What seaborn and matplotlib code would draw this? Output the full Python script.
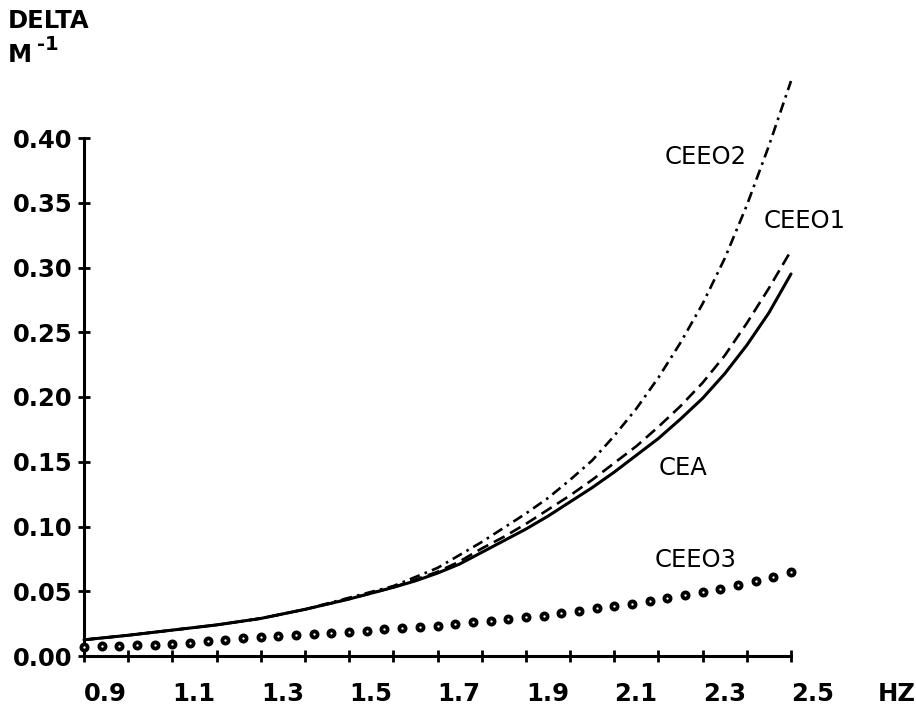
import matplotlib
matplotlib.use("Agg")
import matplotlib.pyplot as plt
import seaborn as sns
import pandas as pd

# ---- data ----
freq = [0.9, 1.0, 1.1, 1.2, 1.3, 1.4, 1.5, 1.6, 1.65, 1.7, 1.75, 1.8, 1.85, 1.9, 1.95,
        2.0, 2.05, 2.1, 2.15, 2.2, 2.25, 2.3, 2.35, 2.4, 2.45, 2.5]
cea = [0.0125, 0.016, 0.020, 0.024, 0.029, 0.036, 0.044, 0.053, 0.058, 0.064, 0.071,
       0.080, 0.089, 0.098, 0.108, 0.119, 0.130, 0.142, 0.155, 0.168, 0.183, 0.199,
       0.218, 0.240, 0.265, 0.295]
ceeo1 = [0.0125, 0.016, 0.020, 0.024, 0.029, 0.036, 0.044, 0.053, 0.059, 0.065, 0.073,
         0.083, 0.092, 0.102, 0.113, 0.124, 0.136, 0.149, 0.162, 0.177, 0.193, 0.211,
         0.232, 0.257, 0.284, 0.313]
ceeo2 = [0.0125, 0.016, 0.020, 0.024, 0.029, 0.036, 0.045, 0.054, 0.061, 0.068, 0.078,
         0.088, 0.099, 0.110, 0.122, 0.136, 0.151, 0.170, 0.191, 0.215, 0.242, 0.272,
         0.307, 0.348, 0.394, 0.444]

freq3 = [0.90, 0.94, 0.98, 1.02, 1.06, 1.10, 1.14, 1.18, 1.22, 1.26, 1.30, 1.34, 1.38, 1.42,
         1.46, 1.50, 1.54, 1.58, 1.62, 1.66, 1.70, 1.74, 1.78, 1.82, 1.86, 1.90, 1.94, 1.98,
         2.02, 2.06, 2.10, 2.14, 2.18, 2.22, 2.26, 2.30, 2.34, 2.38, 2.42, 2.46, 2.50]
ceeo3 = [0.0070, 0.0077, 0.0077, 0.0085, 0.0085, 0.0093, 0.0101, 0.0116, 0.0124, 0.0139,
         0.0147, 0.0155, 0.0163, 0.0170, 0.0178, 0.0186, 0.0194, 0.0209, 0.0217, 0.0224,
         0.0232, 0.0248, 0.0263, 0.0271, 0.0286, 0.0302, 0.0310, 0.0333, 0.0348, 0.0372,
         0.0387, 0.0402, 0.0426, 0.0449, 0.0472, 0.0495, 0.0519, 0.0550, 0.0580, 0.0611,
         0.0650]

xticklabels = ["0.9", "1.1", "1.3", "1.5", "1.7", "1.9", "2.1", "2.3", "2.5"]
yticks = [0.00, 0.05, 0.10, 0.15, 0.20, 0.25, 0.30, 0.35, 0.40]
yticklabels = ["0.00", "0.05", "0.10", "0.15", "0.20", "0.25", "0.30", "0.35", "0.40"]

curve_labels = {"CEEO2": (2.307, 0.385), "CEEO1": (2.531, 0.336),
                "CEA": (2.255, 0.145), "CEEO3": (2.284, 0.074)}

df = pd.DataFrame({"freq": freq, "CEA": cea, "CEEO1": ceeo1, "CEEO2": ceeo2})
df3 = pd.DataFrame({"freq": freq3, "CEEO3": ceeo3})

# ---- figure ----
sns.set_style("ticks")
plt.rcParams["font.family"] = ["DejaVu Sans"]
plt.rcParams["text.color"] = "black"

fig = plt.figure(figsize=(9.16, 7.11), dpi=100)
ax = fig.add_axes([84 / 916, 1 - 656 / 711, (791 - 84) / 916, (656 - 138) / 711])

lw = 1.9
sns.lineplot(data=df, x="freq", y="CEA", ax=ax, color="black", linewidth=lw + 0.3,
             clip_on=False)
sns.lineplot(data=df, x="freq", y="CEEO1", ax=ax, color="black", linewidth=lw,
             linestyle=(0, (4.6, 2.4)), clip_on=False)
sns.lineplot(data=df, x="freq", y="CEEO2", ax=ax, color="black", linewidth=lw,
             linestyle=(0, (4.0, 2.0, 1.0, 2.0)), clip_on=False)
sns.scatterplot(data=df3, x="freq", y="CEEO3", ax=ax, marker="o", s=20,
                facecolor="white", edgecolor="black", linewidth=2.7, clip_on=False,
                zorder=3)

ax.set_xlim(0.9, 2.5)
ax.set_ylim(0.0, 0.40)

ax.set_xticks([0.9 + 0.1 * i for i in range(17)])
ax.set_xticklabels([xticklabels[i // 2] if i % 2 == 0 else "" for i in range(17)])
ax.set_yticks(yticks)
ax.set_yticklabels(yticklabels)
for lab in ax.get_xticklabels():
    lab.set_horizontalalignment("left")

ax.tick_params(axis="both", direction="inout", length=9, width=2, colors="black",
               labelsize=17.5)
ax.tick_params(axis="x", pad=14)
ax.tick_params(axis="y", pad=4)
for lab in ax.get_xticklabels() + ax.get_yticklabels():
    lab.set_fontweight("bold")
    lab.set_color("black")

for side in ["top", "right"]:
    ax.spines[side].set_visible(False)
for side in ["left", "bottom"]:
    ax.spines[side].set_linewidth(2.2)
    ax.spines[side].set_color("black")

ax.set_xlabel("")
ax.set_ylabel("")

for name, (tx, ty) in curve_labels.items():
    ax.text(tx, ty, name, ha="center", va="center", fontsize=17.5, color="black")

ax.text(2.739, -0.029, "HZ", ha="center", va="center", fontsize=17.5,
        fontweight="bold", color="black", clip_on=False)

fig.text(8 / 916, 1 - 28 / 711, "DELTA", ha="left", va="baseline", fontsize=17.5,
         fontweight="bold", color="black")
fig.text(8 / 916, 1 - 62 / 711, "M", ha="left", va="baseline", fontsize=17.5,
         fontweight="bold", color="black")
fig.text(37 / 916, 1 - 50 / 711, "-1", ha="left", va="baseline", fontsize=14,
         fontweight="bold", color="black")

fig.savefig("out.png", dpi=100)
